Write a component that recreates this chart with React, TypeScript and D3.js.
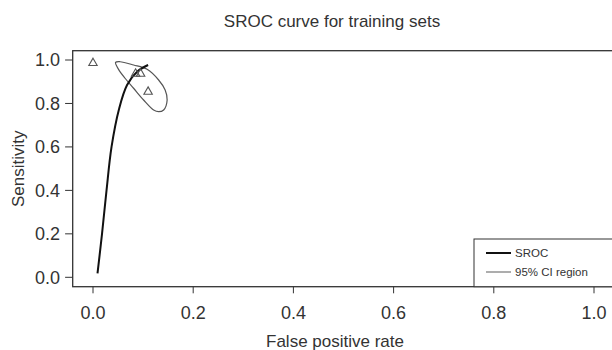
import React from "react";
import * as d3 from "d3";

const studyFpr = [0.0, 0.085, 0.095, 0.11];
const studySens = [0.989, 0.94, 0.94, 0.857];

const srocFpr = [0.009, 0.018, 0.027, 0.037, 0.052, 0.068, 0.088, 0.11];
const srocSens = [0.018, 0.2, 0.4, 0.6, 0.775, 0.885, 0.946, 0.977];

const ciFpr = [0.045, 0.054, 0.081, 0.108, 0.131, 0.144, 0.148, 0.141, 0.131, 0.121, 0.101, 0.081, 0.064, 0.051];
const ciSens = [0.989, 0.992, 0.977, 0.957, 0.908, 0.862, 0.816, 0.77, 0.762, 0.77, 0.816, 0.87, 0.916, 0.957];

const xTicks = [0, 0.2, 0.4, 0.6, 0.8, 1.0];
const yTicks = [0, 0.2, 0.4, 0.6, 0.8, 1.0];

const title = "SROC curve for training sets";
const xLabel = "False positive rate";
const yLabel = "Sensitivity";
const legendLabels = ["SROC", "95% CI region"];

export default function App() {
  const W = 612, H = 350;
  const x = d3.scaleLinear().domain([0, 1]).range([93, 594]);
  const y = d3.scaleLinear().domain([0, 1]).range([277.3, 60]);
  const boxL = 72.7, boxT = 50.7, boxB = 286.7, boxR = 620;
  const font = "Liberation Sans, Arial, Helvetica, sans-serif";
  const txt = "#333";

  const sroc = d3.line<number>().x((_, i) => x(srocFpr[i])).y((_, i) => y(srocSens[i])).curve(d3.curveCatmullRom.alpha(0.5))(srocFpr.map((_, i) => i)) || "";
  const ci = d3.line<number>().x((_, i) => x(ciFpr[i])).y((_, i) => y(ciSens[i])).curve(d3.curveCatmullRomClosed)(ciFpr.map((_, i) => i)) || "";

  const tri = (cx: number, cy: number) => {
    const s = 4.2;
    return `M${cx},${cy - s}L${cx + s},${cy + s * 0.75}L${cx - s},${cy + s * 0.75}Z`;
  };

  return (
    <svg width={W} height={H} style={{ position: "absolute", left: 0, top: 0, background: "#fff" }} fontFamily={font}>
      <rect x={0} y={0} width={W} height={H} fill="#fff" />
      <text x={332} y={27} textAnchor="middle" fontSize={17} fill={txt}>{title}</text>
      <rect x={boxL} y={boxT} width={boxR - boxL} height={boxB - boxT} fill="none" stroke="#333" strokeWidth={1.3} />
      {xTicks.map((t) => (
        <g key={"x" + t}>
          <line x1={x(t)} x2={x(t)} y1={boxB} y2={boxB + 6.6} stroke="#333" strokeWidth={1} />
          <text x={x(t)} y={318.5} textAnchor="middle" fontSize={18} fill={txt}>{t.toFixed(1)}</text>
        </g>
      ))}
      {yTicks.map((t) => (
        <g key={"y" + t}>
          <line x1={boxL} x2={boxL - 7.6} y1={y(t)} y2={y(t)} stroke="#333" strokeWidth={1} />
          <text x={60} y={y(t) + 6.3} textAnchor="end" fontSize={18} fill={txt}>{t.toFixed(1)}</text>
        </g>
      ))}
      <text x={335} y={347} textAnchor="middle" fontSize={17} fill={txt}>{xLabel}</text>
      <text transform={`translate(24,168.7) rotate(-90)`} textAnchor="middle" fontSize={17} fill={txt}>{yLabel}</text>
      <path d={ci} fill="none" stroke="#555" strokeWidth={1.2} />
      <path d={sroc} fill="none" stroke="#111" strokeWidth={2} />
      {studyFpr.map((f, i) => (
        <path key={"p" + i} d={tri(x(f), y(studySens[i]))} fill="none" stroke="#555" strokeWidth={1.1} />
      ))}
      <rect x={474} y={239} width={200} height={boxB - 239} fill="#fff" stroke="#333" strokeWidth={1} />
      <line x1={486} x2={511} y1={253} y2={253} stroke="#111" strokeWidth={2} />
      <line x1={486} x2={511} y1={272} y2={272} stroke="#777" strokeWidth={1.2} />
      <text x={515} y={257} fontSize={11.5} fill={txt}>{legendLabels[0]}</text>
      <text x={515} y={276} fontSize={11.5} fill={txt}>{legendLabels[1]}</text>
    </svg>
  );
}
